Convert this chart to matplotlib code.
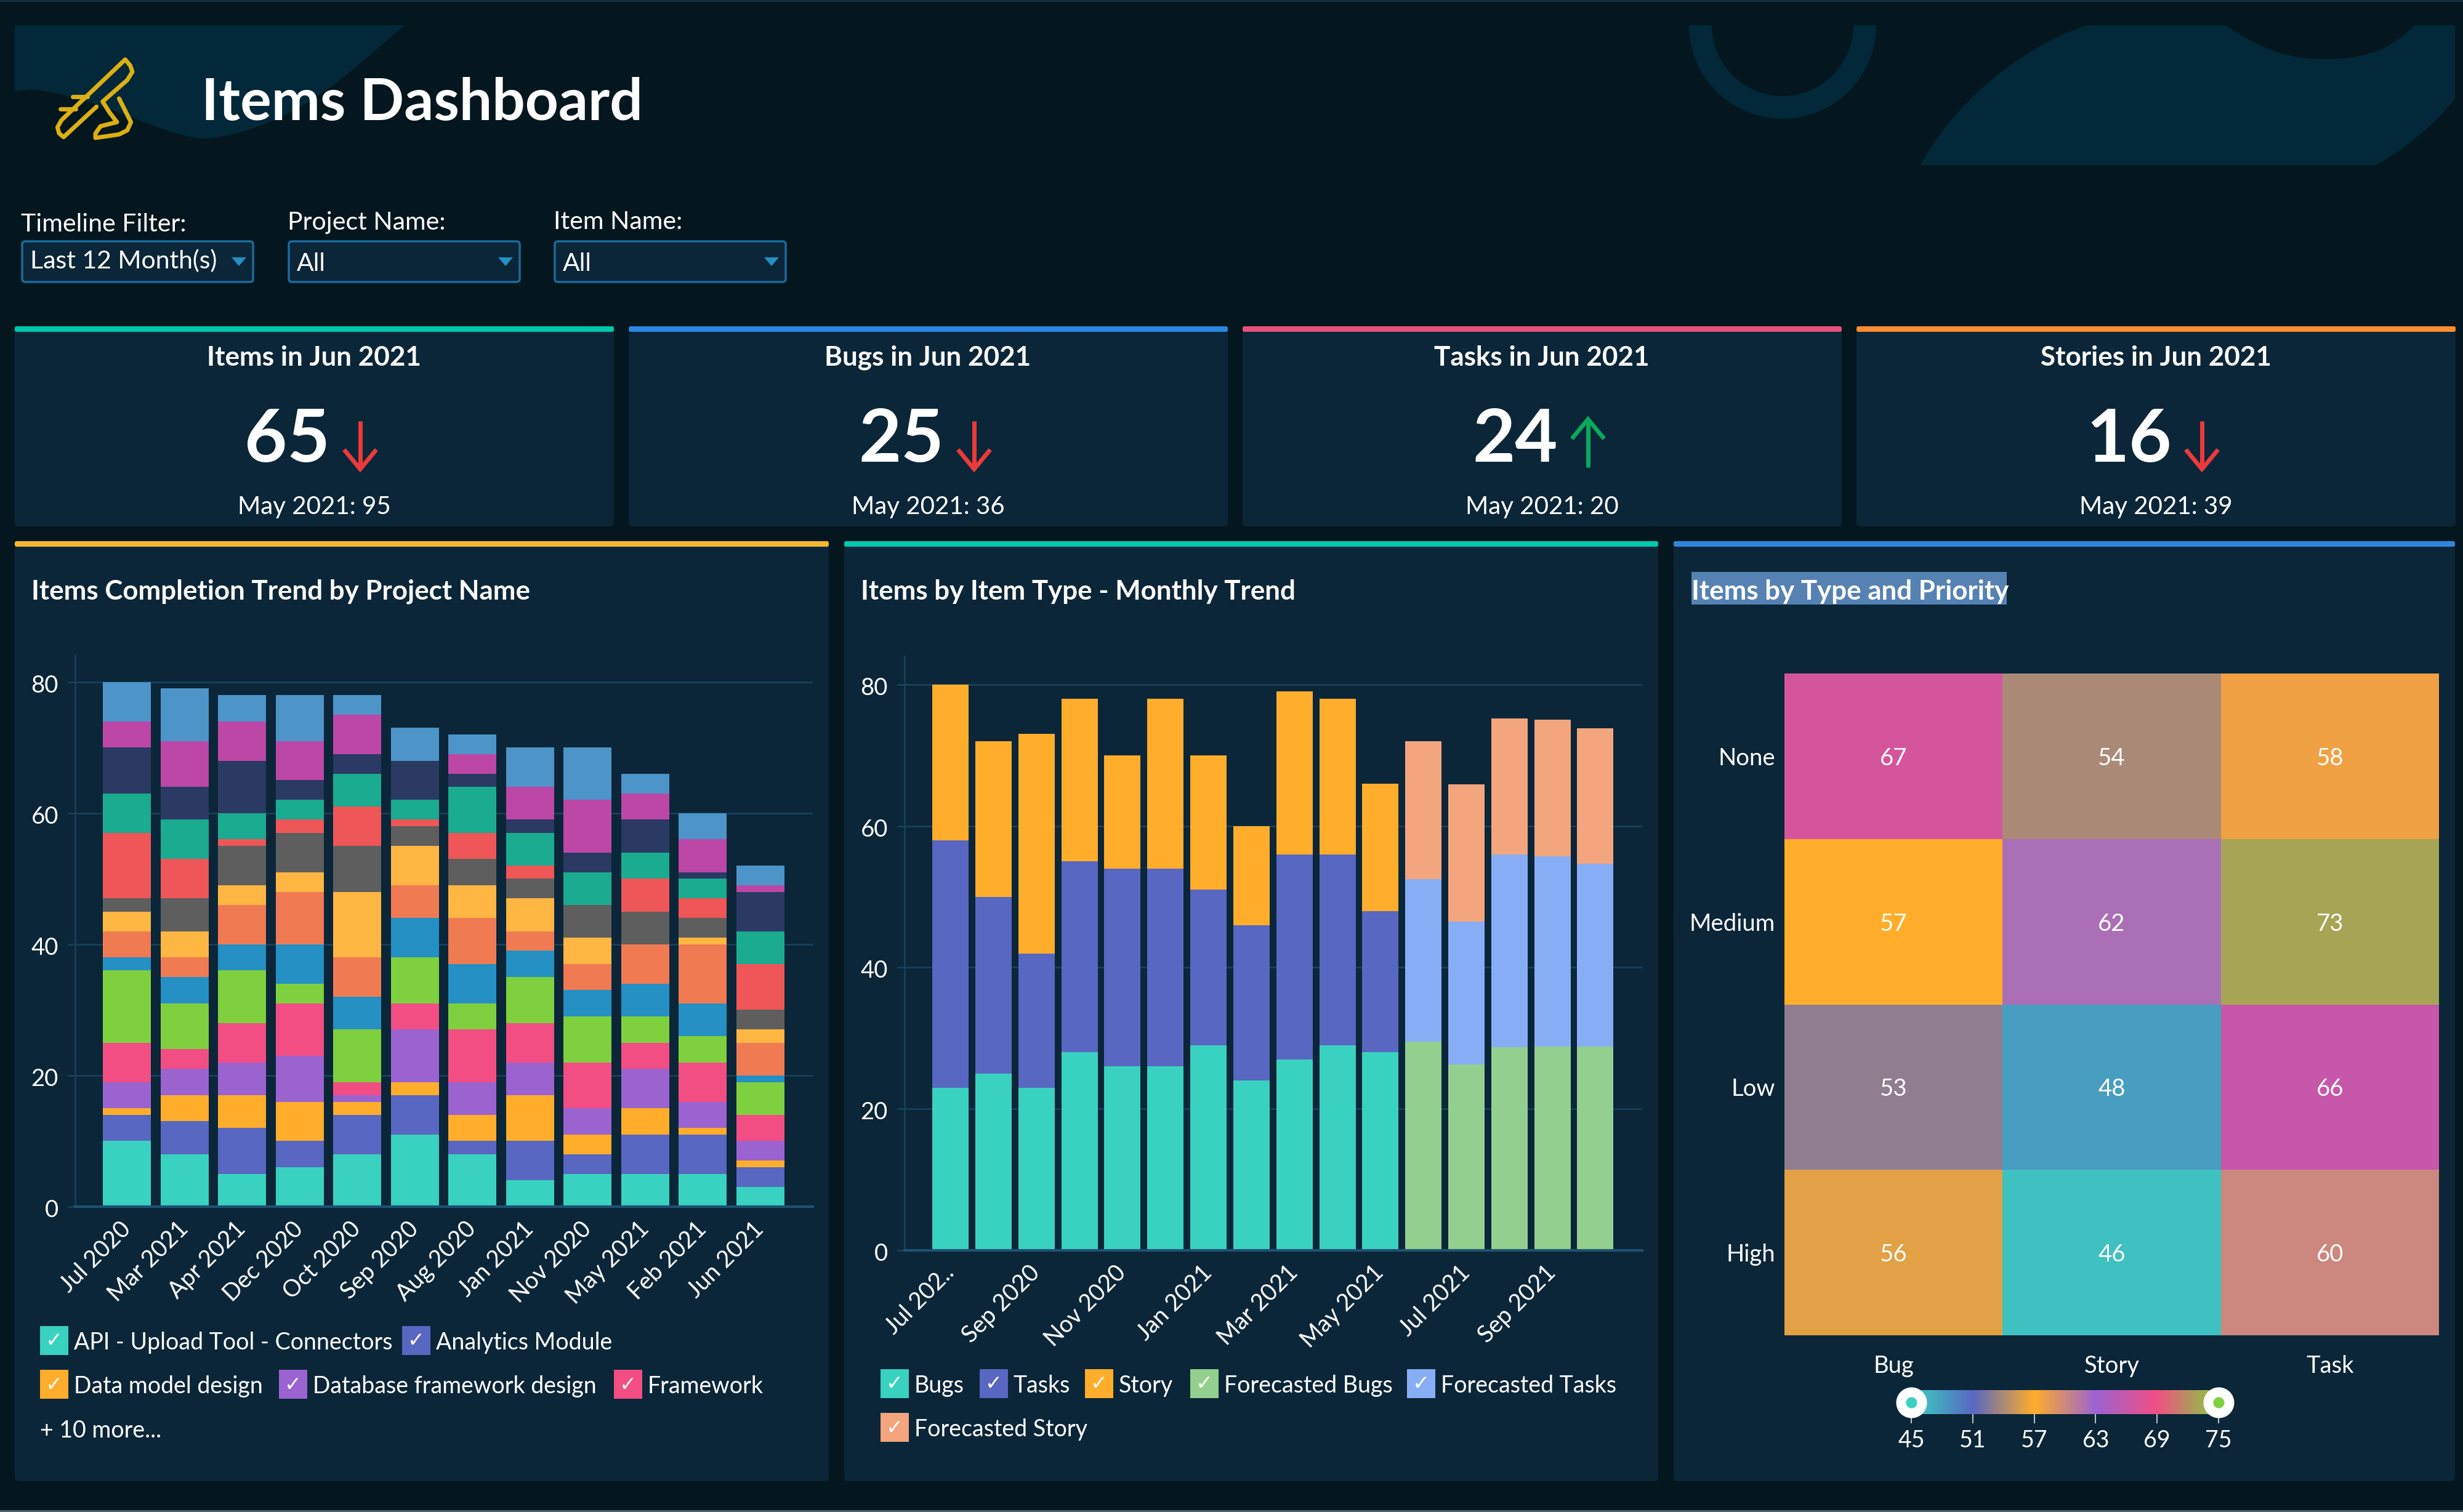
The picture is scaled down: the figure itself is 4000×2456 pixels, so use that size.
import numpy as np
import matplotlib
matplotlib.use('Agg')
import matplotlib.pyplot as plt
from matplotlib.colors import LinearSegmentedColormap, Normalize
from matplotlib.patches import FancyBboxPatch, PathPatch, Polygon, Rectangle, Wedge
from matplotlib.path import Path
from matplotlib.transforms import ScaledTranslation

plt.rcParams['font.family'] = ['Lato', 'DejaVu Sans']

W, H = 4000, 2456

# --- data ---
kpi_titles = ['Items in Jun 2021', 'Bugs in Jun 2021', 'Tasks in Jun 2021', 'Stories in Jun 2021']
kpi_values = [65, 25, 24, 16]
kpi_previous = [95, 36, 20, 39]
kpi_colors = ['#00c9ad', '#2a87e0', '#e8507a', '#ff8c2e']

months = ['Jul 2020', 'Mar 2021', 'Apr 2021', 'Dec 2020', 'Oct 2020', 'Sep 2020',
          'Aug 2020', 'Jan 2021', 'Nov 2020', 'May 2021', 'Feb 2021', 'Jun 2021']
# one row per month, one column per project (bottom to top)
project_counts = [[10, 4, 1, 4, 6, 11, 2, 4, 3, 2, 10, 6, 7, 4, 6],
                  [8, 5, 4, 4, 3, 7, 4, 3, 4, 5, 6, 6, 5, 7, 8],
                  [5, 7, 5, 5, 6, 8, 4, 6, 3, 6, 1, 4, 8, 6, 4],
                  [6, 4, 6, 7, 8, 3, 6, 8, 3, 6, 2, 3, 3, 6, 7],
                  [8, 6, 2, 1, 2, 8, 5, 6, 10, 7, 6, 5, 3, 6, 3],
                  [11, 6, 2, 8, 4, 7, 6, 5, 6, 3, 1, 3, 6, 0, 5],
                  [8, 2, 4, 5, 8, 4, 6, 7, 5, 4, 4, 7, 2, 3, 3],
                  [4, 6, 7, 5, 6, 7, 4, 3, 5, 3, 2, 5, 2, 5, 6],
                  [5, 3, 3, 4, 7, 7, 4, 4, 4, 5, 0, 5, 3, 8, 8],
                  [5, 6, 4, 6, 4, 4, 5, 6, 0, 5, 5, 4, 5, 4, 3],
                  [5, 6, 1, 4, 6, 4, 5, 9, 1, 3, 3, 3, 1, 5, 4],
                  [3, 3, 1, 3, 4, 5, 1, 5, 2, 3, 7, 5, 6, 1, 3]]
project_colors = ['#39d2c0', '#5867c1', '#ffad2a', '#9b63d0', '#f24e84', '#7fd03e',
                  '#2490c3', '#f07a52', '#ffb642', '#5e5e5e', '#ee5658', '#1aab90',
                  '#2a3a63', '#bc47a6', '#4d94c8']
project_names = ['API - Upload Tool - Connectors', 'Analytics Module', 'Data model design',
                 'Database framework design', 'Framework']

trend_labels = ['Jul 202..', 'Sep 2020', 'Nov 2020', 'Jan 2021', 'Mar 2021', 'May 2021', 'Jul 2021', 'Sep 2021']
bugs = [23, 25, 23, 28, 26, 26, 29, 24, 27, 29, 28, 29.5, 26.3, 28.7, 28.8, 28.8]
tasks = [35, 25, 19, 27, 28, 28, 22, 22, 29, 27, 20, 23, 20.2, 27.3, 26.9, 25.9]
story = [22, 22, 31, 23, 16, 24, 19, 14, 23, 22, 18, 19.5, 19.4, 19.2, 19.3, 19.1]
n_actual = 11
type_names = ['Bugs', 'Tasks', 'Story', 'Forecasted Bugs', 'Forecasted Tasks', 'Forecasted Story']
type_colors = ['#39d2c0', '#5867c1', '#ffad2a', '#93d08f', '#87aef5', '#f3a57e']

priorities = ['None', 'Medium', 'Low', 'High']
item_types = ['Bug', 'Story', 'Task']
heat_values = [[67, 54, 58],
               [57, 62, 73],
               [53, 48, 66],
               [56, 46, 60]]
scale_ticks = [45, 51, 57, 63, 69, 75]
scale_colors = ['#39d2c0', '#5867c1', '#ffad2a', '#9b63d0', '#f24e84', '#7fd03e']

# --- colours ---
page_bg = '#04171e'
card_bg = '#0b2639'
blob = '#02283a'
grid_c = '#17405a'
axis_c = '#1f5272'

LEGEND_FS = 27
FILTER_FS = 29.5
TICK_FS = 27.5
TITLE_FS = 31.6


def px_axes(x0, y0, x1, y1, **kw):
    return fig.add_axes([x0 / W, 1 - y1 / H, (x1 - x0) / W, (y1 - y0) / H], **kw)


def label(x, y, s, fs, **kw):
    # Lato sits a little high with va=center
    kw.setdefault('ha', 'left')
    bg.text(x, y + 4, s, color='white', fontsize=fs, va='center', **kw)


def card(x0, y0, x1, y1, color):
    bg.add_patch(FancyBboxPatch((x0, y0), x1 - x0, y1 - y0, boxstyle='round,pad=0,rounding_size=6',
                                fc=card_bg, ec='none'))
    bg.add_patch(FancyBboxPatch((x0, y0), x1 - x0, 9, boxstyle='round,pad=0,rounding_size=3',
                                fc=color, ec='none'))


def legend_item(x, y, color, name):
    bg.add_patch(Rectangle((x, y - 23), 46, 47, fc=color, ec='none'))
    bg.text(x + 23, y + 1, '✓', color='white', fontsize=24, ha='center', va='center', family='DejaVu Sans')
    label(x + 55, y, name, LEGEND_FS)


def arrow(x, y0, y1, color):
    # y0 is the tail, y1 the tip
    d = 29 if y1 > y0 else -29
    bg.plot([x, x], [y0, y1], color=color, lw=5, solid_capstyle='butt')
    bg.plot([x - 24, x, x + 24], [y1 - d, y1, y1 - d], color=color, lw=5, solid_joinstyle='miter')


fig = plt.figure(figsize=(W / 100, H / 100), dpi=100, facecolor=page_bg)
bg = fig.add_axes([0, 0, 1, 1])
bg.set_xlim(0, W)
bg.set_ylim(H, 0)
bg.axis('off')

# thin lines at the picture edges
bg.add_patch(Rectangle((0, 0), W, 3, fc='#12303c', ec='none'))
bg.add_patch(Rectangle((0, H - 3), W, 3, fc='#50646e', ec='none'))

# background shapes in the header
left_verts = [(24, 41), (658, 41),
              (600, 85), (490, 210), (335, 225),
              (270, 225), (170, 160), (54, 145),
              (24, 148), (24, 41)]
left_codes = [Path.MOVETO, Path.LINETO] + [Path.CURVE4] * 6 + [Path.LINETO, Path.CLOSEPOLY]
bg.add_patch(PathPatch(Path(left_verts, left_codes), fc=blob, ec='none'))
right_verts = [(3390, 41), (3614, 41),
               (3680, 85), (3720, 96), (3778, 96),
               (3840, 96), (3885, 80), (3920, 41),
               (3987, 41), (3987, 161),
               (3935, 225), (3859, 268),
               (3119, 268),
               (3165, 180), (3270, 80), (3390, 41), (3390, 41)]
right_codes = [Path.MOVETO, Path.LINETO] + [Path.CURVE4] * 6 + [Path.LINETO, Path.LINETO] + [Path.CURVE3] * 2 + \
              [Path.LINETO] + [Path.CURVE4] * 3 + [Path.CLOSEPOLY]
bg.add_patch(PathPatch(Path(right_verts, right_codes), fc=blob, ec='none'))
bg.add_patch(Wedge((2895, 41), 152, 0, 180, width=37, fc=blob, ec='none'))

# logo
logo = [(290, 310), (130, 458), (108, 440), (100, 410), (120, 375), (430, 80), (455, 110), (465, 140),
        (440, 180), (320, 285), (355, 340), (390, 385), (310, 405), (285, 440), (285, 462), (400, 445),
        (440, 425), (458, 385), (400, 270)]
logo = np.array(logo) / 3 + [60, 70]
bg.plot(logo[:, 0], logo[:, 1], color='#dcb014', lw=5, solid_joinstyle='round', solid_capstyle='round')
for a, b in [((175, 262), (245, 262)), ((115, 320), (190, 320))]:
    bg.plot([a[0] / 3 + 60, b[0] / 3 + 60], [a[1] / 3 + 70, b[1] / 3 + 70], color='#dcb014', lw=5,
            solid_capstyle='round')

label(327, 164, 'Items Dashboard', 68, weight='bold')

# filters
filter_labels = ['Timeline Filter:', 'Project Name:', 'Item Name:']
filter_values = ['Last 12 Month(s)', 'All', 'All']
filter_x = [36, 469, 901]
filter_label_y = [360, 357, 357]
for i in range(3):
    x = filter_x[i]
    label(x - 2, filter_label_y[i], filter_labels[i], FILTER_FS)
    bg.add_patch(FancyBboxPatch((x, 392), 375, 66, boxstyle='round,pad=0,rounding_size=5',
                                fc=card_bg, ec='#1d6a9c', lw=2.5))
    label(x + 13, 420 + (4 if i else 0), filter_values[i], FILTER_FS)
    bg.add_patch(Polygon([(x + 340, 418), (x + 364, 418), (x + 352, 432)], closed=True, fc='#2490c3', ec='none'))

# KPI cards
for i in range(4):
    x0 = 24 + 997 * i
    c = x0 + 486
    card(x0, 530, x0 + 973, 855, kpi_colors[i])
    label(c, 577, kpi_titles[i], 31.7, weight='bold', ha='center')
    label(c + 26, 712, str(kpi_values[i]), 86, weight='bold', ha='right')
    if kpi_values[i] < kpi_previous[i]:
        arrow(c + 75, 684, 762, '#ec3a3a')
    else:
        arrow(c + 75, 759, 681, '#0aa85c')
    label(c, 820, 'May 2021: %d' % kpi_previous[i], 29, ha='center')

# lower panels
card(24, 879, 1346, 2406, '#f5b731')
card(1371, 879, 2693, 2406, '#00c9ad')
card(2718, 879, 3987, 2406, '#2e86de')
label(51, 957, 'Items Completion Trend by Project Name', TITLE_FS, weight='bold')
label(1398, 957, 'Items by Item Type - Monthly Trend', TITLE_FS, weight='bold')
bg.add_patch(Rectangle((2747, 929), 512, 53, fc='#5682b3', ec='none'))
label(2747, 957, 'Items by Type and Priority', TITLE_FS, weight='bold')


def style_axes(ax, yticks):
    ax.set_facecolor('none')
    for s in ['top', 'right']:
        ax.spines[s].set_visible(False)
    ax.spines['left'].set_color(grid_c)
    ax.spines['left'].set_linewidth(2)
    ax.spines['bottom'].set_color(axis_c)
    ax.spines['bottom'].set_linewidth(3)
    ax.set_yticks(yticks)
    ax.tick_params(axis='y', length=8.6, width=2, color=grid_c, labelcolor='white', labelsize=TICK_FS, pad=11)
    ax.tick_params(axis='x', length=0, labelcolor='white', labelsize=TICK_FS, pad=22)
    ax.grid(axis='y', color=grid_c, linewidth=2)
    ax.set_axisbelow(True)
    # tick numbers sit a touch lower than the gridline
    down = ScaledTranslation(0, -2.5 / 100, fig.dpi_scale_trans)
    for lab in ax.get_yticklabels():
        lab.set_transform(lab.get_transform() + down)


# stacked bars by project
ax1 = px_axes(122, 1064, 1320, 1960)
counts = np.array(project_counts)
xpos = np.arange(len(months))
bottom = np.zeros(len(months))
for j in range(counts.shape[1]):
    ax1.bar(xpos, counts[:, j], width=78 / 93.5, bottom=bottom, color=project_colors[j], linewidth=0)
    bottom += counts[:, j]
style_axes(ax1, [0, 20, 40, 60, 80])
ax1.set_xlim(-0.903, 11.91)
ax1.set_ylim(0, 84.1)
ax1.set_xticks(xpos)
ax1.set_xticklabels(months, rotation=45, ha='right', va='center', rotation_mode='anchor')

legend_item(65, 2177, project_colors[0], project_names[0])
legend_item(653, 2177, project_colors[1], project_names[1])
legend_item(65, 2248, project_colors[2], project_names[2])
legend_item(453, 2248, project_colors[3], project_names[3])
legend_item(997, 2248, project_colors[4], project_names[4])
label(65, 2320, '+ 10 more...', LEGEND_FS)

# stacked bars by type, forecast months in their own colours
ax2 = px_axes(1469, 1066, 2667, 2031)
b = np.array(bugs)
t = np.array(tasks)
s = np.array(story)
xpos2 = np.arange(len(b))
for part, base, k in [(b, 0 * b, 0), (t, b, 1), (s, b + t, 2)]:
    bar_colors = [type_colors[k]] * n_actual + [type_colors[k + 3]] * (len(b) - n_actual)
    ax2.bar(xpos2, part, width=59 / 69.8, bottom=base, color=bar_colors, linewidth=0)
style_axes(ax2, [0, 20, 40, 60, 80])
ax2.set_xlim(-1.07, 16.09)
ax2.set_ylim(0, 84)
ax2.set_xticks(xpos2[::2])
ax2.set_xticklabels(trend_labels, rotation=45, ha='right', va='center', rotation_mode='anchor')

legend_item(1430, 2247, type_colors[0], type_names[0])
legend_item(1591, 2247, type_colors[1], type_names[1])
legend_item(1762, 2247, type_colors[2], type_names[2])
legend_item(1933, 2247, type_colors[3], type_names[3])
legend_item(2285, 2247, type_colors[4], type_names[4])
legend_item(1430, 2318, type_colors[5], type_names[5])

# heatmap
cmap = LinearSegmentedColormap.from_list('items', scale_colors)
norm = Normalize(scale_ticks[0], scale_ticks[-1])
ax3 = px_axes(2898, 1094, 3961, 2169)
ax3.set_facecolor('none')
mesh = ax3.pcolormesh(np.array(heat_values), cmap=cmap, norm=norm, linewidth=0)
ax3.set_ylim(len(priorities), 0)
for i in range(len(priorities)):
    for j in range(len(item_types)):
        ax3.text(j + 0.5, i + 0.5, str(heat_values[i][j]), color='white', fontsize=27.5, ha='center',
                 va='center_baseline')
ax3.set_xticks(np.arange(len(item_types)) + 0.5)
ax3.set_xticklabels(item_types)
ax3.set_yticks(np.arange(len(priorities)) + 0.5)
ax3.set_yticklabels(priorities)
ax3.tick_params(axis='x', length=0, labelcolor='white', labelsize=TICK_FS, pad=23)
ax3.tick_params(axis='y', length=0, labelcolor='white', labelsize=TICK_FS, pad=11)
for sp in ax3.spines.values():
    sp.set_visible(False)

# colour scale
cax = px_axes(3104, 2258, 3603, 2297)
cb = fig.colorbar(mesh, cax=cax, orientation='horizontal', ticks=scale_ticks)
cb.outline.set_visible(False)
cax.tick_params(axis='x', length=11, width=1.5, color='#b8c0c6', labelcolor='white', labelsize=27, pad=7)
for v, col in [(scale_ticks[0], scale_colors[0]), (scale_ticks[-1], scale_colors[-1])]:
    cax.plot([v], [0.5], marker='o', ms=24.5, mfc=col, mec='white', mew=11.5, clip_on=False, zorder=5)

fig.savefig('out.png', dpi=100, facecolor=page_bg)
